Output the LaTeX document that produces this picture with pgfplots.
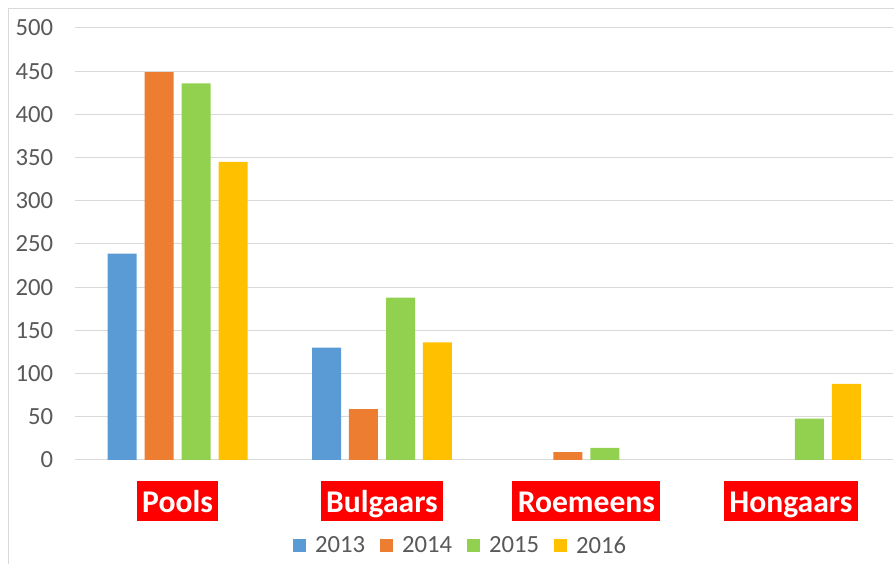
\documentclass[border=0pt]{standalone}
\usepackage{fontspec}
\setmainfont{Carlito}
\usepackage{pgfplots}
\pgfplotsset{compat=1.18}
\definecolor{c2013}{HTML}{5B9BD5}
\definecolor{c2014}{HTML}{ED7D31}
\definecolor{c2015}{HTML}{92D050}
\definecolor{c2016}{HTML}{FFC000}
\definecolor{gridc}{HTML}{D9D9D9}
\definecolor{txt}{HTML}{595959}
\begin{document}
\begin{tikzpicture}
\draw[gridc, line width=0.75pt] (6pt,0pt) -- (6pt,416.25pt) -- (670.5pt,416.25pt);
\begin{axis}[
    at={(56.5pt,78pt)}, anchor=south west,
    scale only axis, width=613.3pt, height=324pt,
    xmin=-0.5, xmax=3.5, ymin=0, ymax=500,
    ytick={0,50,...,500},
    xtick={0,1,2,3},
    xticklabels={Pools,Bulgaars,Roemeens,Hongaars},
    axis line style={draw=none},
    major tick length=0pt,
    ymajorgrids, grid style={gridc, line width=0.75pt},
    /pgf/number format/assume math mode=true,
    yticklabel style={font=\fontsize{18.5}{20}\selectfont, text=txt, anchor=east, inner sep=0pt, xshift=-16.5pt},
    xticklabel style={anchor=center, yshift=-30.75pt, fill=red, text=white,
        font=\fontsize{23.7}{26}\selectfont\bfseries, inner xsep=4pt, inner ysep=0pt,
        text height=23.7pt, text depth=5.8pt},
    ybar, bar width=21.75pt,
    legend image code/.code={\fill[#1] (0pt,-4.875pt) rectangle (9.75pt,4.875pt);},
    legend style={draw=none, at={(0.4713,-0.199)}, anchor=center, legend columns=4,
        font=\fontsize{18.5}{20}\selectfont, text=txt,
        /tikz/every odd column/.append style={column sep=5pt},
        /tikz/every even column/.append style={column sep=9pt}},
]
\addplot[fill=c2013, draw=none, bar shift=-41.6pt] coordinates {(0,239) (1,130)};
\addplot[fill=c2014, draw=none, bar shift=-13.9pt] coordinates {(0,449) (1,59) (2,9)};
\addplot[fill=c2015, draw=none, bar shift=13.9pt] coordinates {(0,436) (1,188) (2,14) (3,48)};
\addplot[fill=c2016, draw=none, bar shift=41.6pt] coordinates {(0,345) (1,136) (3,88)};
\legend{2013,2014,2015,2016}
\end{axis}
\pgfresetboundingbox
\useasboundingbox (0pt,0pt) rectangle (670.5pt,423pt);
\end{tikzpicture}
\end{document}
